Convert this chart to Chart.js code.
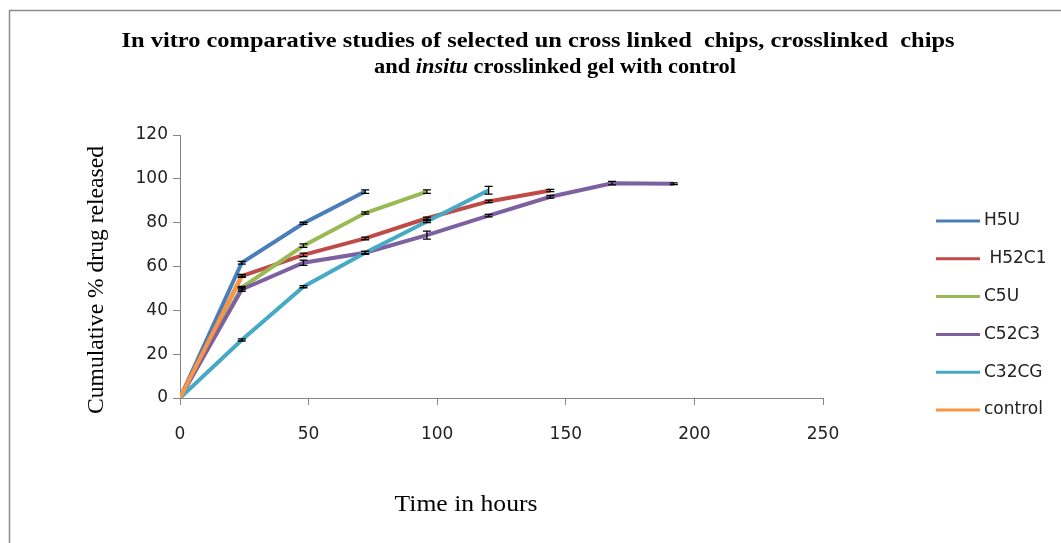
<!DOCTYPE html>
<html>
<head>
<meta charset="utf-8">
<script src="https://cdn.jsdelivr.net/npm/chart.js@4/dist/chart.umd.min.js"></script>
<style>
html,body{margin:0;padding:0;background:#fff;}
#wrap{width:1061px;height:543px;position:relative;}
</style>
</head>
<body>
<div id="wrap"><canvas id="c" width="1061" height="543"></canvas></div>
<script>
// ---- data ----
const hours = [0, 24, 48, 72, 96, 120, 144, 168, 192];
const seriesNames = ['H5U', 'H52C1', 'C5U', 'C52C3', 'C32CG', 'control'];
const h5u     = [0, 61.7, 79.7, 94.2];
const h52c1   = [0, 55.6, 65.3, 72.8, 82.0, 89.7, 94.7];
const c5u     = [0, 50.3, 69.5, 84.4, 94.2];
const c52c3   = [0, 49.5, 61.7, 66.3, 74.3, 83.2, 91.8, 98.0, 97.8];
const c32cg   = [0, 26.5, 50.8, 66.3, 80.5, 94.8];
const control = [0, 55.8];
const h5uErr     = [0, 0.6, 0.5, 0.8];
const h52c1Err   = [0, 0.6, 0.8, 0.6, 0.5, 0.6, 0.5];
const c5uErr     = [0, 0.6, 0.8, 0.5, 0.8];
const c52c3Err   = [0, 0.8, 1.2, 0.6, 1.8, 0.6, 0.6, 0.8, 0.4];
const c32cgErr   = [0, 0.5, 0.5, 0.6, 0.5, 1.8];
const controlErr = [0, 0.6];
const xTicks = [0, 50, 100, 150, 200, 250];
const yTicks = [0, 20, 40, 60, 80, 100, 120];
const colors = ['#4A7EBB', '#BE4B48', '#98B954', '#7D60A0', '#46AAC5', '#F79646'];

const values = [h5u, h52c1, c5u, c52c3, c32cg, control];
const errs = [h5uErr, h52c1Err, c5uErr, c52c3Err, c32cgErr, controlErr];

const datasets = values.map((v, i) => ({
  label: seriesNames[i],
  data: v.map((y, j) => ({x: hours[j], y: y})),
  errors: errs[i],
  borderColor: colors[i],
  backgroundColor: colors[i],
  borderWidth: 4,
  pointRadius: 0,
  tension: 0,
  showLine: true,
  order: values.length - i
}));

const frameAndText = {
  id: 'frameAndText',
  beforeDraw(chart) {
    const ctx = chart.ctx;
    ctx.save();
    ctx.fillStyle = '#fff';
    ctx.fillRect(0, 0, chart.width, chart.height);
    ctx.strokeStyle = '#8c8c8c';
    ctx.lineWidth = 1.5;
    ctx.strokeRect(9.5, 10.5, 1200, 700);
    ctx.restore();
  },
  afterDatasetsDraw(chart) {
    const ctx = chart.ctx;
    const xs = chart.scales.x, ys = chart.scales.y;
    ctx.save();
    ctx.strokeStyle = '#000';
    ctx.lineWidth = 1.3;
    chart.data.datasets.forEach(ds => {
      ds.data.forEach((p, j) => {
        const e = ds.errors[j];
        if (!e) return;
        const px = xs.getPixelForValue(p.x);
        const y1 = ys.getPixelForValue(p.y + e);
        const y2 = ys.getPixelForValue(p.y - e);
        ctx.beginPath();
        ctx.moveTo(px, y1); ctx.lineTo(px, y2);
        ctx.moveTo(px - 4, y1); ctx.lineTo(px + 4, y1);
        ctx.moveTo(px - 4, y2); ctx.lineTo(px + 4, y2);
        ctx.stroke();
      });
    });
    ctx.restore();
  },
  afterDraw(chart) {
    const ctx = chart.ctx;
    ctx.save();
    ctx.fillStyle = '#000';
    ctx.textBaseline = 'middle';
    const drawFit = (parts, cx, cy, target) => {
      let total = 0;
      parts.forEach(p => { ctx.font = p.font; p.w = ctx.measureText(p.t).width; total += p.w; });
      const sx = target / total;
      ctx.save();
      ctx.translate(cx - target / 2, cy);
      ctx.scale(sx, 1);
      let x = 0;
      ctx.textAlign = 'left';
      parts.forEach(p => { ctx.font = p.font; ctx.fillText(p.t, x, 0); x += p.w; });
      ctx.restore();
    };
    const bf = 'bold 20px "Liberation Serif"';
    const bif = 'bold italic 20px "Liberation Serif"';
    drawFit([{t: 'In vitro comparative studies of selected un cross linked  chips, crosslinked  chips', font: bf}], 538, 42, 833);
    drawFit([{t: 'and ', font: bf}, {t: 'insitu', font: bif}, {t: ' crosslinked gel with control', font: bf}], 555, 68, 362);
    drawFit([{t: 'Time in hours', font: '24px "Liberation Serif"'}], 466, 505, 143);
    ctx.save();
    ctx.translate(97, 280);
    ctx.rotate(-Math.PI / 2);
    drawFit([{t: 'Cumulative % drug released', font: '23px "Liberation Serif"'}], 0, 0, 268);
    ctx.restore();
    // legend
    ctx.textAlign = 'left';
    ctx.font = '17px "DejaVu Sans"';
    chart.data.datasets.forEach((ds, i) => {
      const y = 221 + i * 37.8;
      ctx.strokeStyle = ds.borderColor;
      ctx.lineWidth = 3;
      ctx.beginPath();
      ctx.moveTo(936, y); ctx.lineTo(980, y);
      ctx.stroke();
      ctx.fillStyle = '#222';
      ctx.fillText((i === 1 ? ' ' : '') + ds.label, 984, y);
    });
    ctx.restore();
  }
};

new Chart(document.getElementById('c'), {
  type: 'scatter',
  data: { datasets: datasets },
  plugins: [frameAndText],
  options: {
    responsive: false,
    animation: false,
    layout: { padding: { top: 135, right: 238, bottom: 0, left: 0 } },
    plugins: { legend: { display: false }, title: { display: false }, tooltip: { enabled: false } },
    scales: {
      x: {
        type: 'linear', min: 0, max: 250,
        afterBuildTicks: s => { s.ticks = xTicks.map(v => ({value: v})); },
        afterFit: s => { s.height = 145; },
        ticks: { color: '#222', font: { family: 'DejaVu Sans', size: 17 }, padding: 19, maxRotation: 0 },
        grid: { drawOnChartArea: false, drawTicks: true, tickLength: 7, color: '#868686' },
        border: { display: true, color: '#868686', width: 1 }
      },
      y: {
        type: 'linear', min: 0, max: 120,
        afterBuildTicks: s => { s.ticks = yTicks.map(v => ({value: v})); },
        afterFit: s => { s.width = 180; },
        ticks: { color: '#222', font: { family: 'DejaVu Sans', size: 17 }, padding: 5 },
        grid: { drawOnChartArea: false, drawTicks: true, tickLength: 7, color: '#868686' },
        border: { display: true, color: '#868686', width: 1 }
      }
    }
  }
});
</script>
</body>
</html>
